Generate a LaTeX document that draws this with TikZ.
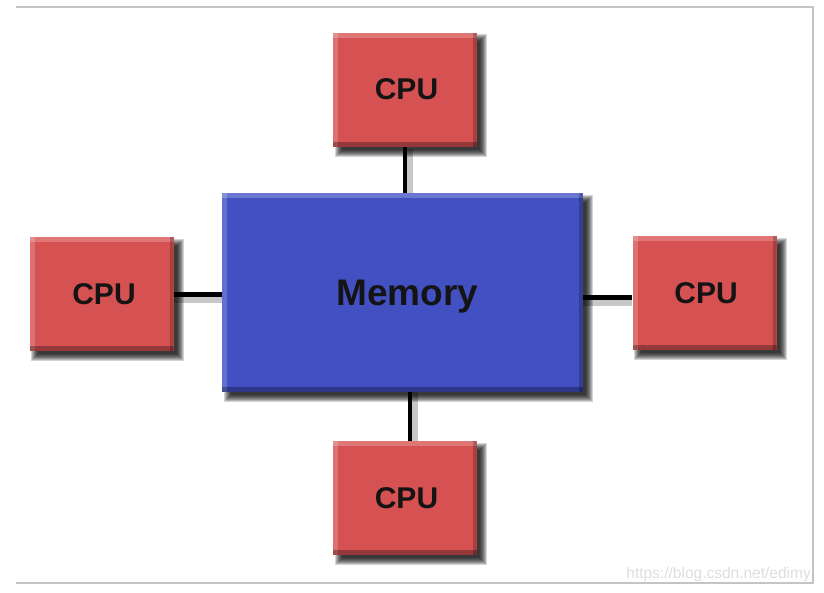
\documentclass[tikz,border=0pt]{standalone}
\usepackage{fontspec}
\setmainfont{Liberation Sans}
\usetikzlibrary{backgrounds}
\definecolor{cpured}{RGB}{214,81,82}
\definecolor{memblue}{RGB}{66,80,194}
\definecolor{framegray}{RGB}{196,196,196}
\definecolor{wmgray}{RGB}{222,222,222}
\tikzset{
  bevel/.style={path picture={
    \fill[white,opacity=0.22] (path picture bounding box.north west) rectangle ([yshift=-5pt]path picture bounding box.north east);
    \fill[white,opacity=0.18] (path picture bounding box.north west) rectangle ([xshift=5pt]path picture bounding box.south west);
    \fill[black,opacity=0.3] ([yshift=5pt]path picture bounding box.south west) rectangle (path picture bounding box.south east);
    \fill[black,opacity=0.22] ([xshift=-4pt]path picture bounding box.north east) rectangle (path picture bounding box.south east);
  }},
  box/.style={rectangle, inner sep=0pt, text=black!92, bevel},
  cpu/.style={box, fill=cpured, minimum width=144pt, minimum height=114pt,
    font=\fontsize{30}{30}\selectfont\bfseries},
  membox/.style={box, fill=memblue, minimum width=361pt, minimum height=199pt,
    font=\fontsize{37}{37}\selectfont\bfseries},
  shadowlayer/.style={black, opacity=0.17},
  wire/.style={line width=4.5pt, black},
  wireshadow/.style={line width=7pt, black, opacity=0.22},
  framel/.style={line width=2pt, framegray}
}
\begin{document}
\begin{tikzpicture}[x=1pt,y=-1pt]
\useasboundingbox (0,0) rectangle (824,592);
\node[membox, text depth=0pt] (mem) at (402.5,292.5) {\hspace*{10pt}Memory};
\node[cpu] (top) at (405,89.5) {\hspace*{3pt}CPU};
\node[cpu] (left) at (101.5,294) {\hspace*{5pt}CPU};
\node[cpu] (right) at (704.5,293) {\hspace*{3pt}CPU};
\node[cpu] (bot) at (405,498) {\hspace*{3pt}CPU};
\node[font=\fontsize{15.5}{15.5}\selectfont, text=wmgray, anchor=base east, inner sep=0pt] (wm) at (811,578) {https://blog.csdn.net/edimy};
\begin{scope}[on background layer]
  \fill[white] (0,0) rectangle (824,592);
  \draw[framel] (16,7) coordinate (f1) -- (813,7) coordinate (f2) -- (813,583) coordinate (f3) -- (16,583) coordinate (f4);
  \foreach \n in {mem,top,left,right,bot}{
    \foreach \a/\b in {2/10,3/9,4/8,5/7,6/6,7/5,8/4,9/3}{
      \fill[shadowlayer] ([shift={(\a,\a)}]\n.north west) rectangle ([shift={(\b,\b)}]\n.south east);
    }
  }
  \draw[wireshadow] ([xshift=4pt,yshift=-2pt]top.south) -- ([xshift=4pt]top.south |- mem.north);
  \draw[wire] (top.south) -- (top.south |- mem.north);
  \draw[wireshadow] ([xshift=9pt]bot.north |- mem.south) -- ([xshift=9pt]bot.north);
  \draw[wire] ([xshift=5pt]bot.north |- mem.south) -- ([xshift=5pt]bot.north);
  \draw[wireshadow] ([yshift=-5pt]left.east |- 0,294.5) -- ([yshift=-5pt]mem.west |- 0,294.5);
  \draw[wire] (left.east |- 0,294.5) -- (mem.west |- 0,294.5);
  \draw[wireshadow] ([yshift=-5pt]mem.east |- 0,297.5) -- ([yshift=-5pt]right.west |- 0,297.5);
  \draw[wire] (mem.east |- 0,297.5) -- (right.west |- 0,297.5);
\end{scope}
\end{tikzpicture}
\end{document}
